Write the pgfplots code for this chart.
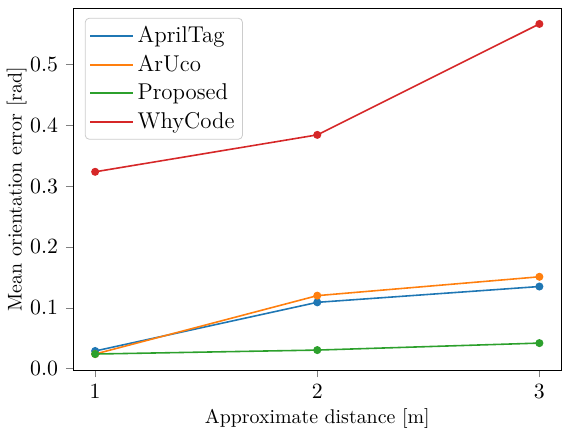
\documentclass[border=0pt]{standalone}
\usepackage{pgfplots}
\pgfplotsset{compat=1.18}
\definecolor{c0}{HTML}{1F77B4}
\definecolor{c1}{HTML}{FF7F0E}
\definecolor{c2}{HTML}{2CA02C}
\definecolor{c3}{HTML}{D62728}
\begin{document}
\begin{tikzpicture}
\begin{axis}[
  scale only axis,
  width=246pt, height=182.5pt,
  xmin=0.9, xmax=3.1,
  ymin=-0.003, ymax=0.593,
  xtick={1,2,3},
  ytick={0,0.1,0.2,0.3,0.4,0.5},
  ticklabel style={font=\fontsize{11}{13}\selectfont},
  yticklabel style={/pgf/number format/fixed,/pgf/number format/fixed zerofill,/pgf/number format/precision=1, xshift=-0.5pt},
  tick align=outside,
  tick pos=left,
  major tick length=3.5pt,
  xlabel={Approximate distance [m]},
  ylabel={Mean orientation error [rad]},
  xlabel style={yshift=2pt},
  ylabel style={yshift=-5pt},
  legend cell align=left,
  legend style={draw=black!20, rounded corners=2pt, fill=white, inner sep=2pt, row sep=0.8pt,
    at={(0,1)}, anchor=north west, xshift=6pt, yshift=-5pt, font=\fontsize{11.5}{13.5}\selectfont},
  legend image code/.code={\draw[#1] (0cm,0cm) -- (0.75cm,0cm);},
  after end axis/.code={\path (rel axis cs:1,1) ++(0pt,4pt);},
]
\addlegendimage{line width=1pt, color=c0}
\addlegendentry{AprilTag}
\addlegendimage{line width=1pt, color=c1}
\addlegendentry{ArUco}
\addlegendimage{line width=1pt, color=c2}
\addlegendentry{Proposed}
\addlegendimage{line width=1pt, color=c3}
\addlegendentry{WhyCode}
\addplot[forget plot, line width=0.8pt, color=c0, mark=*, mark size=1.6pt, mark options={fill=c0, draw=c0}] coordinates {(1,0.029) (2,0.109) (3,0.135)};
\addplot[forget plot, line width=0.8pt, color=c1, mark=*, mark size=1.6pt, mark options={fill=c1, draw=c1}] coordinates {(1,0.024) (2,0.120) (3,0.151)};
\addplot[forget plot, line width=0.8pt, color=c2, mark=*, mark size=1.6pt, mark options={fill=c2, draw=c2}] coordinates {(1,0.024) (2,0.0305) (3,0.042)};
\addplot[forget plot, line width=0.8pt, color=c3, mark=*, mark size=1.6pt, mark options={fill=c3, draw=c3}] coordinates {(1,0.3236) (2,0.3843) (3,0.5667)};
\end{axis}
\end{tikzpicture}
\end{document}
